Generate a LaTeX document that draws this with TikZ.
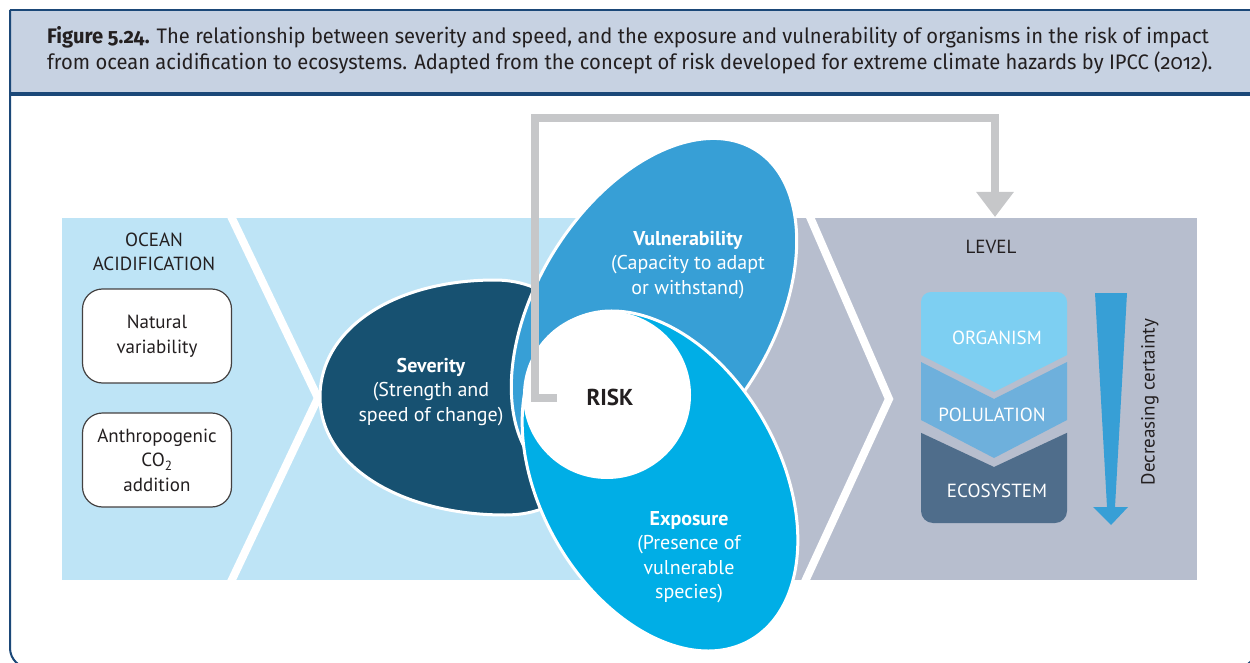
\documentclass[tikz,border=0pt]{standalone}
\usepackage{fontspec}
\setmainfont{PT Sans}
\newfontfamily\capfont{Fira Sans}[FakeStretch=0.96,Numbers=OldStyle]
\usetikzlibrary{shapes.geometric,arrows.meta}
\definecolor{frameblue}{HTML}{1B4878}
\definecolor{capbg}{HTML}{C7D2E2}
\definecolor{lightpanel}{HTML}{BEE4F6}
\definecolor{graypanel}{HTML}{B7BECE}
\definecolor{sevcol}{HTML}{175171}
\definecolor{vulcol}{HTML}{379FD6}
\definecolor{expcol}{HTML}{00AEE6}
\definecolor{orgcol}{HTML}{7DCFF2}
\definecolor{popcol}{HTML}{6EB0DC}
\definecolor{ecocol}{HTML}{4F6D8B}
\definecolor{arrowgray}{HTML}{C6C7C9}
\definecolor{txt}{HTML}{231F20}
\tikzset{
  lbl/.style={font=\fontsize{19}{24.5}\selectfont, align=center, text=txt, inner sep=0pt},
  wlbl/.style={font=\fontsize{19}{24.5}\selectfont, align=center, text=white, inner sep=0pt},
  blbl/.style={font=\fontsize{20}{24.5}\selectfont, align=center, text=white, inner sep=0pt},
  blob/.style={ellipse, draw=white, line width=3pt, inner sep=0pt},
  srcbox/.style={draw=txt!85, line width=1.2pt, fill=white, rounded corners=20pt, minimum width=149pt, minimum height=94pt, lbl},
  chev/.style={white, line width=8pt},
  grayline/.style={arrowgray, line width=8pt},
  captext/.style={anchor=base west, inner sep=0pt, text=txt, font=\capfont\fontsize{21}{26}\selectfont}
}
\begin{document}
\begin{tikzpicture}[x=1pt,y=-1pt]
\useasboundingbox (0,0) rectangle (1250,663);
\clip (0,0) rectangle (1250,663);
% caption
\fill[capbg] (10,10) rectangle (1256,93);
\draw[frameblue, line width=4pt] (10,94) -- (1256,94);
\draw[frameblue, line width=2pt] (10,10) -- (1256,10);
\draw[frameblue, line width=2pt, rounded corners=20pt] (10,10) -- (10,668) -- (1256,668) -- (1256,10);
\node[captext] (cap1) at (47,44)
  {\textbf{Figure 5.24.} The relationship between severity and speed, and the exposure and vulnerability of organisms in the risk of impact};
\node[captext] (cap2) at (47,70)
  {from ocean acidification to ecosystems. Adapted from the concept of risk developed for extreme climate hazards by IPCC (2012).};
% panels
\begin{scope}
\clip (62,218) rectangle (1197,580);
\fill[lightpanel] (62,218) rectangle (700,580);
\fill[graypanel] (700,218) rectangle (1197,580);
\draw[chev] (228,210) -- (318,398) -- (228,588);
\draw[chev] (807,210) -- (889,399) -- (802,588);
\end{scope}
% left side
\node[lbl] (oa) at (154,252) {OCEAN\\ACIDIFICATION};
\node[srcbox] (nat) at (157,336) {Natural\\variability};
\node[srcbox] (anth) at (157,460) {Anthropogenic\\CO\textsubscript{2}\\addition};
% severity
\fill[sevcol, draw=white, line width=3pt] (320,397) .. controls (320,328) and (395,280) .. (495,280)
  .. controls (550,280) and (595,320) .. (595,397)
  .. controls (595,470) and (570,515) .. (505,515)
  .. controls (400,515) and (320,465) .. (320,397) -- cycle;
% vulnerability and exposure
\node[blob, fill=vulcol, minimum width=386pt, minimum height=236pt, rotate=58.3] (vul) at (654,314) {};
\node[blob, fill=expcol, minimum width=366pt, minimum height=240pt, rotate=-60.6] (exp) at (660,481) {};
% risk
\node[circle, fill=white, minimum size=168pt, inner sep=0pt] (risk) at (607,395) {};
\node[font=\fontsize{23}{26}\selectfont\bfseries, text=txt, inner sep=0pt] (risklbl) at (610,397) {RISK};
% labels on blobs
\node[blbl] (sevlbl) at (431,392) {\textbf{Severity}\\(Strength and\\speed of change)};
\node[blbl] (vullbl) at (688,265) {\textbf{Vulnerability}\\(Capacity to adapt\\or withstand)};
\node[blbl] (explbl) at (689,557) {\textbf{Exposure}\\(Presence of\\vulnerable\\species)};
% level panel
\node[lbl] (level) at (991,247) {LEVEL};
\coordinate (arrowstart) at (557,398);
\coordinate (levtop) at (995,217);
\draw[grayline, -{Triangle[width=36pt,length=25pt]}] (arrowstart) -- ++(-22,0) |- ++(460,-280) -- (levtop);
% stack
\begin{scope}
\clip (915,285) -- (1073,285) -- (1073,352) -- (994,392) -- (915,352) -- cycle;
\fill[orgcol, rounded corners=10pt] (921,292) rectangle (1067,400);
\end{scope}
\fill[popcol] (921,362) -- (994,399) -- (1067,362) -- (1067,420) -- (994,458) -- (921,420) -- cycle;
\begin{scope}
\clip (915,430) -- (994,467) -- (1073,430) -- (1073,530) -- (915,530) -- cycle;
\fill[ecocol, rounded corners=12pt] (921,420) rectangle (1067,523);
\end{scope}
\node[wlbl] (org) at (997,338) {ORGANISM};
\node[wlbl] (pop) at (992,415) {POLULATION};
\node[wlbl] (eco) at (997,491) {ECOSYSTEM};
% decreasing arrow
\fill[vulcol] (1095,293) -- (1127,293) -- (1115,507) -- (1128,507) -- (1111,525) -- (1093,507) -- (1107,507) -- cycle;
\node[lbl, rotate=90] (dec) at (1150,402) {Decreasing certainty};
\end{tikzpicture}
\end{document}
